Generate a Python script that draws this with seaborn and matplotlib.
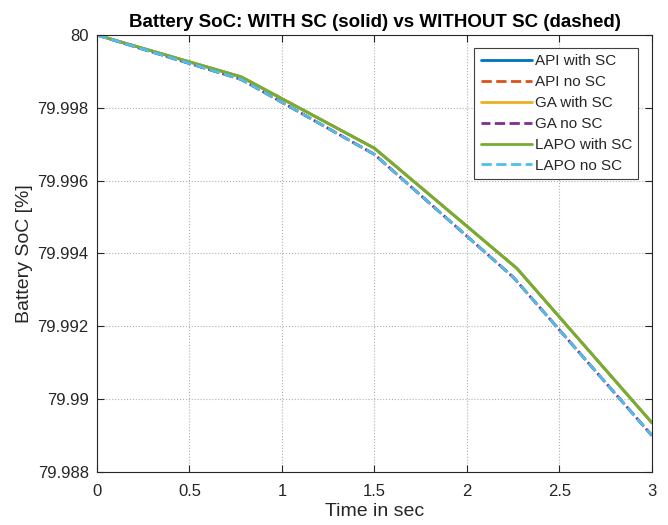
import numpy as np
import pandas as pd
import matplotlib
matplotlib.use("Agg")
import matplotlib.pyplot as plt
import seaborn as sns

# ---- data ----
t_with = [0.0, 0.78, 1.5, 2.27, 3.0]
soc_with = [80.0, 79.99885, 79.99689, 79.99359, 79.98935]
t_no = [0.0, 0.78, 1.5, 2.25, 3.0]
soc_no = [80.0, 79.99878, 79.99672, 79.99335, 79.98900]

series_names = ["API with SC", "API no SC", "GA with SC", "GA no SC", "LAPO with SC", "LAPO no SC"]
series_kind = ["with", "no", "with", "no", "with", "no"]
series_colors = ["#0072BD", "#D95319", "#EDB120", "#7E2F8E", "#77AC30", "#4DBEEE"]

xticks = [0, 0.5, 1, 1.5, 2, 2.5, 3]
xticklabels = ["0", "0.5", "1", "1.5", "2", "2.5", "3"]
yticks = [79.988, 79.99, 79.992, 79.994, 79.996, 79.998, 80.0]
yticklabels = ["79.988", "79.99", "79.992", "79.994", "79.996", "79.998", "80"]

title = "Battery SoC: WITH SC (solid) vs WITHOUT SC (dashed)"
xlabel = "Time in sec"
ylabel = "Battery SoC [%]"

# ---- style ----
sns.set_style("ticks")
plt.rcParams["font.family"] = ["Liberation Sans", "DejaVu Sans"]
plt.rcParams["axes.edgecolor"] = "#262626"
plt.rcParams["xtick.color"] = "#262626"
plt.rcParams["ytick.color"] = "#262626"

fig = plt.figure(figsize=(6.68, 5.25), dpi=100)
ax = fig.add_axes([0.1452, 0.1010, 0.8308, 0.8323])

for name, kind, col in zip(series_names, series_kind, series_colors):
    if kind == "with":
        df = pd.DataFrame({"t": t_with, "soc": soc_with})
        ls = "-"
    else:
        df = pd.DataFrame({"t": t_no, "soc": soc_no})
        ls = (0.5, (3.7, 1.6)) if name.startswith("GA") else (0, (3.7, 1.6))
    sns.lineplot(data=df, x="t", y="soc", ax=ax, color=col, linestyle=ls,
                 linewidth=2.0, label=name, sort=False, estimator=None)

ax.set_xlim(0, 3)
ax.set_ylim(79.988, 80.0)
ax.set_xticks(xticks)
ax.set_xticklabels(xticklabels)
ax.set_yticks(yticks)
ax.set_yticklabels(yticklabels)
ax.tick_params(axis="both", direction="in", length=5, width=0.8, labelsize=12,
               top=True, right=True, labelcolor="#262626")
ax.tick_params(axis="x", pad=8.5)
ax.tick_params(axis="y", pad=6)
for s in ax.spines.values():
    s.set_visible(True)
    s.set_linewidth(0.8)
ax.grid(True, linestyle=":", color="#b0b0b0", linewidth=0.8)

ax.set_xlabel(xlabel, fontsize=14, color="#262626", labelpad=3)
ax.set_ylabel(ylabel, fontsize=14, color="#262626", labelpad=3)
ax.set_title(title, fontsize=13.5, fontweight="bold", color="#000000", pad=6)

leg = ax.legend(loc="upper right", bbox_to_anchor=(0.975, 0.9696), fontsize=11,
                frameon=True, fancybox=False, edgecolor="#404040", framealpha=1,
                handlelength=3.34, handletextpad=0.2, labelspacing=0.45,
                borderpad=0.4, borderaxespad=0.0)
leg.get_frame().set_linewidth(0.8)

fig.savefig("out.png", dpi=100)
